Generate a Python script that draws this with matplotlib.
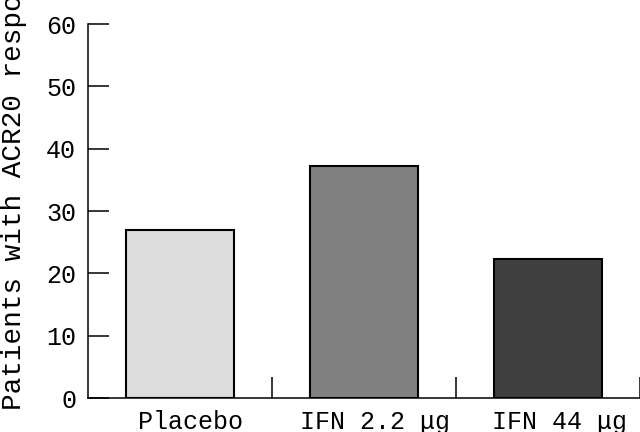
import matplotlib
matplotlib.use("Agg")
import matplotlib.pyplot as plt
import matplotlib.transforms as mtransforms
import numpy as np

# data
groups = ["Placebo", "IFN 2.2 μg", "IFN 44 μg"]
acr20 = [27.0, 37.3, 22.3]
bar_colors = ["#dcdcdc", "#808080", "#404040"]
y_ticks = [0, 10, 20, 30, 40, 50, 60]

plt.rcParams['font.family'] = ['Liberation Mono', 'DejaVu Sans Mono']

fig = plt.figure(figsize=(6.4, 4.32), dpi=100)
ax = fig.add_axes([0.1375, 0.0787, 0.8625, 0.8657])

x = np.arange(len(groups))
ax.bar(x, acr20, width=0.59, color=bar_colors, edgecolor="black", linewidth=1.5)

ax.set_xlim(-0.5, 2.5)
ax.set_ylim(0, 60)

ax.spines['top'].set_visible(False)
ax.spines['right'].set_visible(False)
for s in ['left', 'bottom']:
    ax.spines[s].set_linewidth(1.1)

ax.set_yticks(y_ticks)
ax.tick_params(axis='y', direction='in', length=15, width=1.1, pad=8.6, labelsize=18)

ax.set_xticks(x)
ax.set_xticklabels(groups)
ax.set_xticks(x + 0.5, minor=True)
ax.tick_params(axis='x', which='major', length=0, pad=8.6, labelsize=18)
ax.tick_params(axis='x', which='minor', direction='in', length=15, width=1.1)

# category labels sit a bit right of the bar centres in the original
shift = mtransforms.ScaledTranslation(11 / 100, 0, fig.dpi_scale_trans)
for lab in ax.get_xticklabels():
    lab.set_transform(lab.get_transform() + shift)

fig.text(0.022, 0.051, "Patients with ACR20 response (%)", rotation=90,
         ha='center', va='bottom', fontsize=20)

fig.savefig("out.png", dpi=100)
